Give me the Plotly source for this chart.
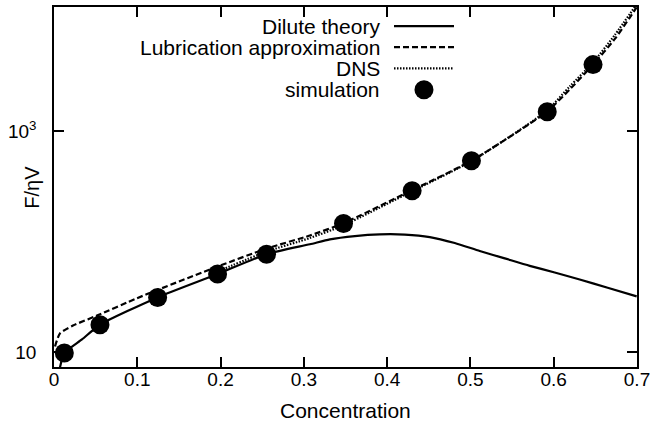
import plotly.graph_objects as go

# Simulation results (markers)
sim_x = [0.0124, 0.0552, 0.1244, 0.1964, 0.2552, 0.3476, 0.430, 0.5012, 0.5922, 0.6472]
sim_y = [9.75, 17.6, 31.1, 50.6, 76.6, 145.5, 288, 537, 1493, 3985]

# Dilute theory curve
dilute_x = [0.0072, 0.0124, 0.0336, 0.0552, 0.1244, 0.1964, 0.2552, 0.3072, 0.3312, 0.3612,
            0.3912, 0.4212, 0.4512, 0.4812, 0.5112, 0.5412, 0.5712, 0.6012, 0.6312, 0.6648,
            0.6996]
dilute_y = [7.25, 9.75, 12.96, 17.6, 31.1, 50.6, 76.6, 94.2, 104.4, 111.8,
            115.8, 115.3, 109.5, 96.7, 81.9, 70.2, 60.1, 52.3, 45.2, 38.1,
            31.8]

# Lubrication approximation curve
lub_x = [0.0012, 0.0072, 0.0228, 0.0516, 0.0996, 0.1248, 0.1956, 0.2556, 0.3072,
         0.348, 0.4296, 0.5016, 0.5916, 0.6192, 0.6468, 0.6732, 0.6996]
lub_y = [11.2, 14.7, 17.3, 21.3, 30.6, 36.5, 58.9, 86.3, 113.0,
         146.6, 290, 540, 1489, 2377, 3954, 6776, 13150]

# DNS curve
dns_x = [0.1956, 0.2556, 0.3072, 0.348, 0.4296, 0.5016, 0.5916, 0.6192, 0.6468, 0.6732, 0.6996]
dns_y = [53.0, 81.1, 107.3, 140.5, 284, 535, 1523, 2529, 4128, 7362, 14000]

legend_labels = ["Dilute theory", "Lubrication approximation", "DNS", "simulation"]

FONT = "Liberation Sans, Arial, Helvetica, sans-serif"
LW = 2.2

fig = go.Figure()
fig.add_trace(go.Scatter(x=dilute_x, y=dilute_y, mode="lines",
                         line=dict(color="black", width=LW, shape="spline", smoothing=0.6)))
fig.add_trace(go.Scatter(x=lub_x, y=lub_y, mode="lines",
                         line=dict(color="black", width=LW, dash="6px,3px", shape="spline", smoothing=0.6)))
fig.add_trace(go.Scatter(x=dns_x, y=dns_y, mode="lines",
                         line=dict(color="black", width=LW, dash="1.5px,1.5px", shape="spline", smoothing=0.6)))
fig.add_trace(go.Scatter(x=sim_x, y=sim_y, mode="markers",
                         marker=dict(color="black", size=19, line=dict(width=0))))

# Key: labels right-aligned, samples to their right
rows_y = [0.9467, 0.8887, 0.8293, 0.7699]
text_x = 0.5626
line_x0, line_x1 = 0.5832, 0.6861
mark_x = 0.6346
for lab, ry in zip(legend_labels, rows_y):
    fig.add_annotation(x=text_x, y=ry, xref="paper", yref="paper", text=lab,
                       showarrow=False, xanchor="right", yanchor="middle",
                       font=dict(family=FONT, size=21, color="black"))
dashes = ["solid", "6px,3px", "1.5px,1.5px"]
for d, ry in zip(dashes, rows_y[:3]):
    fig.add_shape(type="line", xref="paper", yref="paper", x0=line_x0, x1=line_x1,
                  y0=ry, y1=ry, line=dict(color="black", width=LW, dash=d))
fig.add_trace(go.Scatter(x=[mark_x], y=[rows_y[3]], xaxis="x2", yaxis="y2", mode="markers",
                         marker=dict(color="black", size=19, line=dict(width=0)),
                         hoverinfo="skip"))

fig.add_annotation(x=-0.0383, y=0.5, xref="paper", yref="paper", text="F/ηV",
                   textangle=-90, showarrow=False, xanchor="center", yanchor="middle",
                   font=dict(family=FONT, size=20, color="black"))
fig.add_annotation(x=0.5, y=-0.1196, xref="paper", yref="paper", text="Concentration",
                   showarrow=False, xanchor="center", yanchor="middle",
                   font=dict(family=FONT, size=21, color="black"))

fig.update_layout(
    width=655, height=432,
    margin=dict(l=54, r=18, t=5, b=65),
    paper_bgcolor="white", plot_bgcolor="white",
    showlegend=False,
    font=dict(family=FONT, size=19, color="black"),
    xaxis=dict(range=[0, 0.7], tickvals=[0, 0.1, 0.2, 0.3, 0.4, 0.5, 0.6, 0.7],
               ticktext=["0", "0.1", "0.2", "0.3", "0.4", "0.5", "0.6", "0.7"],
               ticks="inside", ticklen=10, tickwidth=1.5, tickcolor="black",
               showline=True, linewidth=1.5, linecolor="black", mirror="ticks",
               showgrid=False, zeroline=False, ticklabelstandoff=-6),
    yaxis=dict(type="log", range=[0.863, 4.122], tickvals=[10, 1000],
               ticktext=["10", "10<sup>3</sup>"],
               ticks="inside", ticklen=10, tickwidth=1.5, tickcolor="black",
               showline=True, linewidth=1.5, linecolor="black", mirror="ticks",
               showgrid=False, zeroline=False, ticklabelstandoff=12),
    xaxis2=dict(range=[0, 1], overlaying="x", visible=False),
    yaxis2=dict(range=[0, 1], overlaying="y", visible=False),
)

fig.write_html("out.html")
